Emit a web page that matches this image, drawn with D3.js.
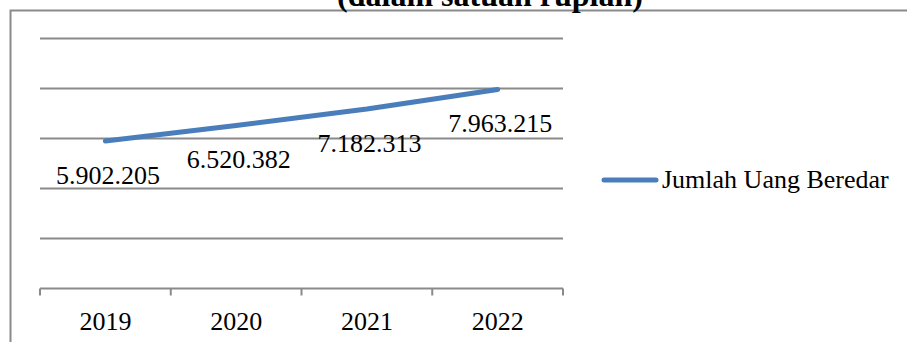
<!DOCTYPE html>
<html>
<head>
<meta charset="utf-8">
<script src="https://cdn.jsdelivr.net/npm/d3@7"></script>
<style>
  html, body { margin: 0; padding: 0; background: #fff; }
  svg { display: block; }
  text { font-family: "Liberation Serif", "Times New Roman", serif; fill: #000; }
</style>
</head>
<body>
<svg id="chart" width="907" height="342"></svg>
<script>
// Jumlah uang beredar per tahun (dalam satuan rupiah)
const years = ["2019", "2020", "2021", "2022"];
const uangBeredar = [5902205, 6520382, 7182313, 7963215];
const gridValues = [2000000, 4000000, 6000000, 8000000, 10000000];
const seriesName = "Jumlah Uang Beredar";
const titleText = "(dalam satuan rupiah)";

const W = 907, H = 342;
const plot = { left: 40, right: 563, top: 38.5, bottom: 288.5 };
const grey = "#8a8a8a";
const blue = "#4a7ebb";

const idFmt = d3.formatLocale({ decimal: ",", thousands: ".", grouping: [3], currency: ["Rp", ""] }).format(",d");

const svg = d3.select("#chart");

const x = d3.scaleBand().domain(years).range([plot.left, plot.right]).paddingInner(0).paddingOuter(0);
const y = d3.scaleLinear().domain([0, 10000000]).range([plot.bottom, plot.top]);
const cx = d => x(d) + x.bandwidth() / 2;

// Chart frame (top and left edges)
svg.append("path")
  .attr("d", `M10.5,${H} L10.5,10.5 L${W},10.5`)
  .attr("fill", "none")
  .attr("stroke", grey)
  .attr("stroke-width", 2);

// Title
svg.append("text")
  .attr("x", 490)
  .attr("y", 6)
  .attr("text-anchor", "middle")
  .attr("font-size", 32)
  .attr("font-weight", "bold")
  .text(titleText);

// Horizontal gridlines
svg.append("g").selectAll("line")
  .data(gridValues)
  .join("line")
  .attr("x1", plot.left).attr("x2", plot.right)
  .attr("y1", d => y(d)).attr("y2", d => y(d))
  .attr("stroke", grey).attr("stroke-width", 2);

// Category axis: baseline, boundary ticks, year labels
const axis = svg.append("g");
axis.append("line")
  .attr("x1", plot.left).attr("x2", plot.right)
  .attr("y1", y(0)).attr("y2", y(0))
  .attr("stroke", grey).attr("stroke-width", 2);

const boundaries = years.map(d => x(d)).concat([x(years[years.length - 1]) + x.bandwidth()]);
axis.selectAll("line.tick")
  .data(boundaries)
  .join("line")
  .attr("class", "tick")
  .attr("x1", d => d).attr("x2", d => d)
  .attr("y1", y(0)).attr("y2", y(0) + 7)
  .attr("stroke", grey).attr("stroke-width", 2);

axis.selectAll("text")
  .data(years)
  .join("text")
  .attr("x", d => cx(d))
  .attr("y", 330)
  .attr("text-anchor", "middle")
  .attr("font-size", 26)
  .text(d => d);

// Series line
const pts = years.map((d, i) => [cx(d), y(uangBeredar[i])]);
svg.append("path")
  .attr("d", d3.line()(pts))
  .attr("fill", "none")
  .attr("stroke", blue)
  .attr("stroke-width", 5)
  .attr("stroke-linecap", "round")
  .attr("stroke-linejoin", "round");

// Data labels below each point
svg.append("g").selectAll("text")
  .data(years)
  .join("text")
  .attr("x", d => cx(d) + 2.5)
  .attr("y", (d, i) => y(uangBeredar[i]) + 43)
  .attr("text-anchor", "middle")
  .attr("font-size", 26)
  .text((d, i) => idFmt(uangBeredar[i]));

// Legend
const lg = svg.append("g");
lg.append("line")
  .attr("x1", 604).attr("x2", 656)
  .attr("y1", 180).attr("y2", 180)
  .attr("stroke", blue).attr("stroke-width", 5)
  .attr("stroke-linecap", "round");
lg.append("text")
  .attr("x", 662)
  .attr("y", 188)
  .attr("font-size", 26)
  .text(seriesName);
</script>
</body>
</html>
